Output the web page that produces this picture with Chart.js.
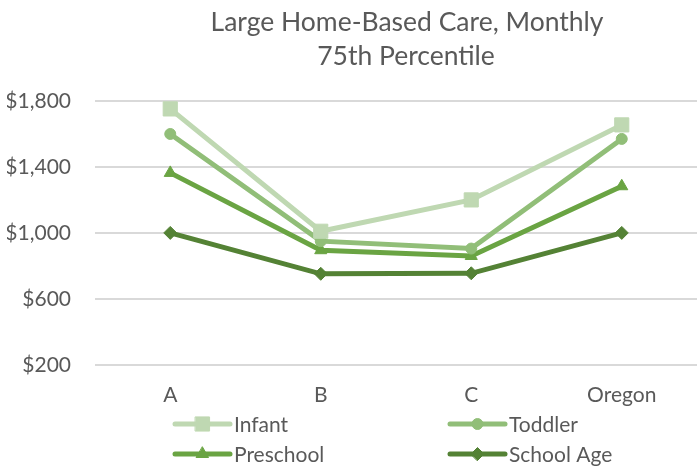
<!DOCTYPE html>
<html>
<head>
<meta charset="utf-8">
<script src="https://cdn.jsdelivr.net/npm/chart.js@4"></script>
<style>
  html, body { margin: 0; padding: 0; background: #fff; }
  #wrap { width: 697px; height: 467px; }
</style>
</head>
<body>
<div id="wrap"><canvas id="line-chart" width="697" height="467"></canvas></div>
<script>
const categorias = ['A', 'B', 'C', 'Oregon']
const infant = [1752, 1010, 1200, 1655]
const toddler = [1600, 950, 905, 1570]
const preschool = [1364, 895, 860, 1283]
const schoolAge = [1000, 752, 755, 1000]
const yTicks = [200, 600, 1000, 1400, 1800]
const titulo = ['Large Home-Based Care, Monthly', '75th Percentile']

const cinza = '#595959'
const fonte = 'Lato, "Open Sans", sans-serif'

// titulo e legenda desenhados a mao (o titulo do original nao fica centrado)
const extras = {
    id: 'extras',
    afterDraw(chart) {
        const ctx = chart.ctx
        ctx.save()
        ctx.fillStyle = cinza
        ctx.font = '26.5px ' + fonte
        ctx.textAlign = 'center'
        ctx.textBaseline = 'alphabetic'
        ctx.fillText(titulo[0], 407, 31)
        ctx.fillText(titulo[1], 406, 65)
        ctx.restore()

        const cols = [175, 450]
        const rows = [424, 454]
        chart.data.datasets.forEach((ds, i) => {
            const x0 = cols[i % 2]
            const y = rows[Math.floor(i / 2)]
            const x1 = x0 + 55
            ctx.save()
            ctx.strokeStyle = ds.borderColor
            ctx.lineWidth = 5
            ctx.lineCap = 'round'
            ctx.beginPath()
            ctx.moveTo(x0, y)
            ctx.lineTo(x1, y)
            ctx.stroke()
            ctx.fillStyle = ds.borderColor
            ctx.strokeStyle = ds.borderColor
            ctx.lineWidth = 1
            Chart.helpers.drawPoint(ctx, {
                pointStyle: ds.pointStyle,
                radius: ds.pointRadius,
                rotation: 0,
                borderWidth: 1
            }, (x0 + x1) / 2, y)
            ctx.fillStyle = cinza
            ctx.font = '21px ' + fonte
            ctx.textBaseline = 'middle'
            ctx.textAlign = 'left'
            ctx.fillText(ds.label, x1 + 4, y + 1)
            ctx.restore()
        })
    }
}

function serie(label, data, cor, estilo, raio) {
    return {
        label: label,
        data: data,
        borderColor: cor,
        backgroundColor: cor,
        borderWidth: 5,
        pointStyle: estilo,
        pointRadius: raio,
        pointBorderWidth: 1,
        pointHoverRadius: raio,
        tension: 0
    }
}

const ctx = document.getElementById('line-chart').getContext('2d')
new Chart(ctx, {
    type: 'line',
    data: {
        labels: categorias,
        datasets: [
            serie('Infant', infant, '#bfd8b2', 'rect', 10),
            serie('Toddler', toddler, '#91be78', 'circle', 5.5),
            serie('Preschool', preschool, '#6aa443', 'triangle', 7),
            serie('School Age', schoolAge, '#548235', 'rectRot', 6.5)
        ]
    },
    options: {
        responsive: false,
        animation: false,
        layout: { autoPadding: false, padding: { top: 101, right: 0, bottom: 41, left: 7 } },
        plugins: {
            legend: { display: false },
            tooltip: { enabled: false },
            title: { display: false }
        },
        scales: {
            x: {
                offset: true,
                grid: { display: false, drawTicks: false },
                border: { display: false },
                ticks: { color: cinza, font: { family: fonte, size: 21 }, padding: 18 },
                afterFit: (s) => { s.paddingLeft = 0; s.paddingRight = 0 }
            },
            y: {
                min: 200,
                max: 1800,
                afterBuildTicks: (axis) => { axis.ticks = yTicks.map(v => ({ value: v })) },
                afterFit: (s) => { s.width = 88 },
                grid: { color: '#d9d9d9', lineWidth: 2, drawTicks: false },
                border: { display: false },
                ticks: {
                    color: cinza,
                    font: { family: fonte, size: 21 },
                    padding: 24,
                    callback: (v) => '$' + v.toLocaleString('en-US')
                }
            }
        }
    },
    plugins: [extras]
})
</script>
</body>
</html>
